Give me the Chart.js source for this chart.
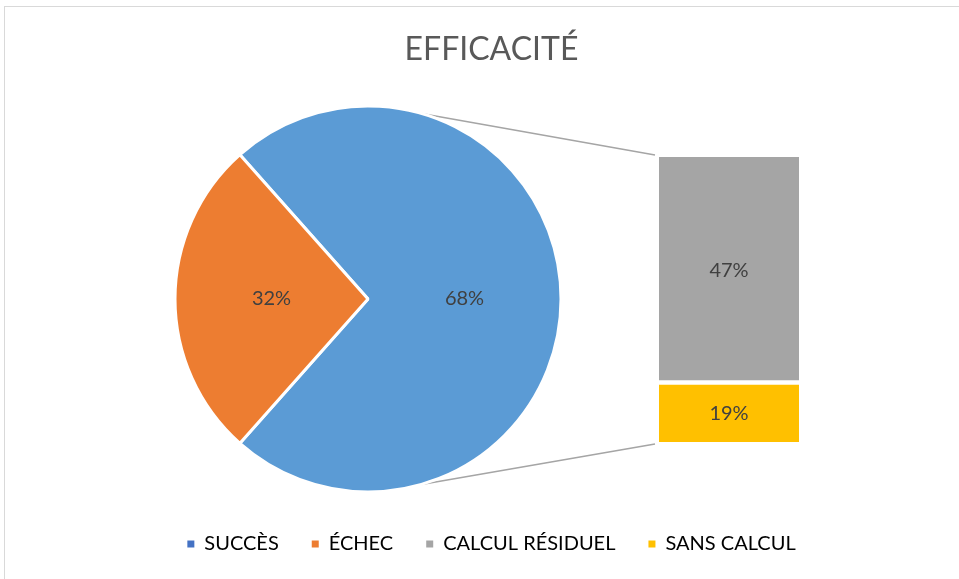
<!DOCTYPE html>
<html lang="fr">
<head>
<meta charset="utf-8">
<title>Efficacité</title>
<script src="https://cdn.jsdelivr.net/npm/chart.js@4.4.1/dist/chart.umd.min.js"></script>
<style>
    html, body { margin: 0; padding: 0; background: #fff; overflow: hidden; }
    #wrap { position: relative; width: 959px; height: 579px; overflow: hidden; background: #fff; }
    #frame { position: absolute; left: 4px; top: 6px; width: 1000px; height: 620px; border-top: 1px solid #d9d9d9; border-left: 1px solid #d9d9d9; }
    #pieCanvas { position: absolute; left: 0; top: 0; }
    #barCanvas { position: absolute; left: 659px; top: 157px; }
</style>
</head>
<body>
<div id="wrap">
    <div id="frame"></div>
    <canvas id="pieCanvas" width="959" height="579"></canvas>
    <canvas id="barCanvas" width="140" height="285"></canvas>
</div>
<script>
// === DATA ===
const categories = ['SUCCÈS', 'ÉCHEC', 'CALCUL RÉSIDUEL', 'SANS CALCUL'];
const legendColors = ['#4472C4', '#ED7D31', '#A5A5A5', '#FFC000'];

// pie: slice sizes as drawn, and the printed labels
const pieCategories = ['SUCCÈS', 'ÉCHEC'];
const pieShares = [73.1, 26.9];
const pieLabels = ['68%', '32%'];
const pieColors = ['#5B9BD5', '#ED7D31'];

// stacked bar (bottom to top): segment sizes as drawn, and printed labels
const barCategories = ['SANS CALCUL', 'CALCUL RÉSIDUEL'];
const barShares = [20, 80];
const barLabels = ['19%', '47%'];
const barColors = ['#FFC000', '#A5A5A5'];

// === LAYOUT ===
const PIE_X = 368;
const PIE_Y = 299;
const PIE_RADIUS = 193;
const CONNECTOR_ANGLE = 16; // degrees from vertical where the lines leave the pie
const FONT = 'Lato, "Open Sans", sans-serif';

// label plugin used by both charts
const valueLabels = {
    id: 'valueLabels',
    afterDatasetsDraw(chart, args, opts) {
        const ctx = chart.ctx;
        ctx.save();
        ctx.font = '20px ' + FONT;
        ctx.fillStyle = '#404040';
        ctx.textAlign = 'center';
        ctx.textBaseline = 'middle';
        chart.data.datasets.forEach((ds, di) => {
            chart.getDatasetMeta(di).data.forEach((el, i) => {
                let x, y;
                if (chart.config.type === 'bar') {
                    x = el.x;
                    y = (el.y + el.base) / 2;
                } else {
                    const p = el.tooltipPosition();
                    x = p.x; y = p.y;
                }
                const text = opts.texts[chart.config.type === 'bar' ? di : i];
                ctx.fillText(text, x, y);
            });
        });
        ctx.restore();
    }
};

// bar of pie: the stacked column on the right
const barChart = new Chart(document.getElementById('barCanvas'), {
    type: 'bar',
    data: {
        labels: ['AUTRES'],
        datasets: barCategories.map((name, i) => ({
            label: name,
            data: [barShares[i]],
            backgroundColor: barColors[i],
            borderColor: '#ffffff',
            borderWidth: i === 1 ? { top: 0, left: 0, right: 0, bottom: 5 } : 0,
            borderSkipped: false,
            barPercentage: 1,
            categoryPercentage: 1
        }))
    },
    options: {
        responsive: false,
        animation: false,
        layout: { padding: 0 },
        scales: {
            x: { stacked: true, display: false },
            y: { stacked: true, display: false, min: 0, max: 100 }
        },
        plugins: {
            legend: { display: false },
            tooltip: { enabled: false },
            valueLabels: { texts: barLabels }
        }
    },
    plugins: [valueLabels]
});

// place the pie where it sits in the original, left of the centre
const pieArea = {
    id: 'pieArea',
    afterLayout(chart) {
        const r = PIE_RADIUS + 4;
        chart.chartArea = {
            left: PIE_X - r, right: PIE_X + r,
            top: PIE_Y - r, bottom: PIE_Y + r,
            width: 2 * r, height: 2 * r
        };
    }
};

// grey lines from the pie to the column
const connectors = {
    id: 'connectors',
    beforeDatasetsDraw(chart) {
        const arc = chart.getDatasetMeta(0).data[0];
        const bar = barChart.getDatasetMeta(1).data[0];
        const low = barChart.getDatasetMeta(0).data[0];
        const canvas = barChart.canvas;
        const ox = canvas.offsetLeft, oy = canvas.offsetTop;
        const a = CONNECTOR_ANGLE * Math.PI / 180;
        const r = arc.outerRadius;
        const barLeft = ox + bar.x - bar.width / 2 - 4;
        const ctx = chart.ctx;
        ctx.save();
        ctx.strokeStyle = '#A5A5A5';
        ctx.lineWidth = 1.5;
        ctx.beginPath();
        ctx.moveTo(arc.x + r * Math.sin(a), arc.y - r * Math.cos(a));
        ctx.lineTo(barLeft, oy + bar.y - 2);
        ctx.moveTo(arc.x + r * Math.sin(a), arc.y + r * Math.cos(a));
        ctx.lineTo(barLeft, oy + low.base + 2);
        ctx.stroke();
        ctx.restore();
    }
};

new Chart(document.getElementById('pieCanvas'), {
    type: 'pie',
    data: {
        labels: pieCategories,
        datasets: [{
            data: pieShares,
            backgroundColor: pieColors,
            borderColor: '#ffffff',
            borderWidth: 3
        }]
    },
    options: {
        responsive: false,
        animation: false,
        radius: PIE_RADIUS,
        rotation: 270 + pieShares[1] * 1.8,
        layout: { padding: { left: 24, bottom: 15 } },
        plugins: {
            title: {
                display: true,
                text: 'EFFICACITÉ',
                color: '#595959',
                font: { family: FONT, size: 32, weight: 'normal' },
                padding: { top: 30, bottom: 20 }
            },
            legend: {
                position: 'bottom',
                labels: {
                    color: '#595959',
                    font: { family: FONT, size: 20 },
                    boxWidth: 7,
                    boxHeight: 7,
                    padding: 33,
                    generateLabels: () => categories.map((text, i) => ({
                        text: text,
                        fillStyle: legendColors[i],
                        strokeStyle: legendColors[i],
                        lineWidth: 0,
                        hidden: false,
                        index: i
                    }))
                },
                onClick: () => {}
            },
            tooltip: { enabled: false },
            valueLabels: { texts: pieLabels }
        }
    },
    plugins: [pieArea, connectors, valueLabels]
});
</script>
</body>
</html>
